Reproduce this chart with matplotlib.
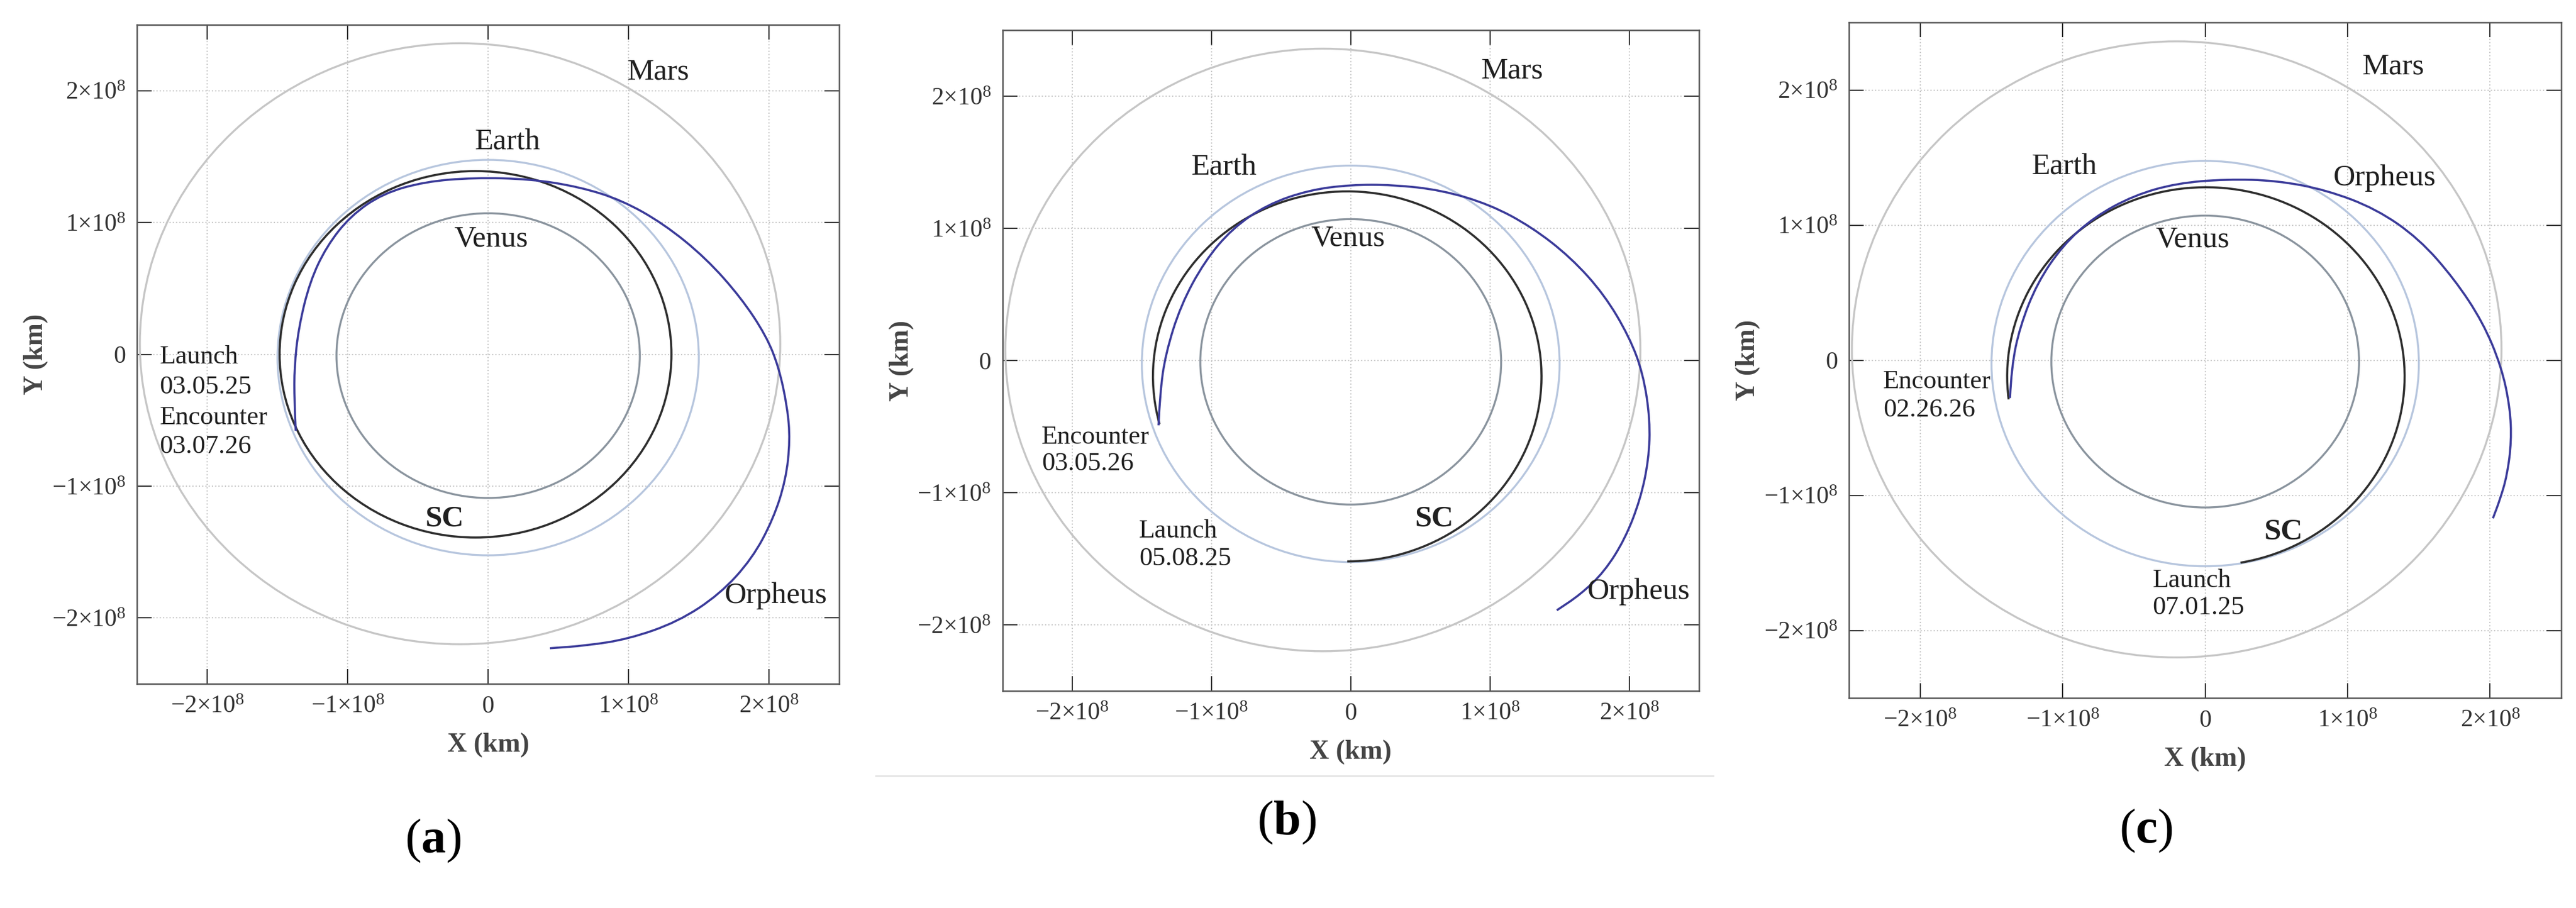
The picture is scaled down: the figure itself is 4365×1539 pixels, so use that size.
import matplotlib.pyplot as plt
from matplotlib.patches import Ellipse, Arc, Rectangle, PathPatch
from matplotlib.path import Path
from matplotlib.lines import Line2D

plt.rcParams['font.family'] = ['Liberation Serif', 'DejaVu Serif']
plt.rcParams['mathtext.fontset'] = 'custom'
plt.rcParams['mathtext.rm'] = 'Liberation Serif'
plt.rcParams['mathtext.it'] = 'Liberation Serif:italic'
plt.rcParams['mathtext.bf'] = 'Liberation Serif:bold'

# --- DATA (units of 1e8 km) ---
# planet orbits: centre x, centre y, radius
mars_orbit = (-0.20, 0.08, 2.28)
earth_orbit = (0.0, -0.025, 1.50)
venus_orbit = (0.0, -0.01, 1.08)

# spacecraft arcs per panel: centre, half-width, half-height, theta start/end (deg)
sc_center = [(-0.09, 0.0), (-0.025, -0.12), (0.005, -0.12)]
sc_halfw = [1.395, 1.395, 1.395]
sc_halfh = [1.39, 1.40, 1.40]
sc_theta = [(0, 360), (-90, 195), (-80, 187)]

# Orpheus trajectories
orph_a_x = [-1.37, -1.38, -1.38, -1.35, -1.27, -1.15, -0.98, -0.75, -0.45, -0.10, 0.30, 0.65, 0.95,
            1.25, 1.55, 1.80, 1.98, 2.07, 2.13, 2.15, 2.12, 2.03, 1.88, 1.65, 1.35, 1.00, 0.70, 0.44]
orph_a_y = [-0.58, -0.35, -0.10, 0.20, 0.55, 0.82, 1.05, 1.22, 1.31, 1.34, 1.33, 1.27, 1.17,
            0.99, 0.73, 0.43, 0.14, -0.10, -0.40, -0.65, -0.95, -1.25, -1.55, -1.82, -2.03, -2.16, -2.21, -2.23]
orph_b_x = [-1.38, -1.37, -1.33, -1.22, -1.05, -0.85, -0.60, -0.30, 0.00, 0.30, 0.65, 1.00, 1.30,
            1.58, 1.82, 2.00, 2.10, 2.15, 2.14, 2.08, 1.97, 1.82, 1.65, 1.48]
orph_b_y = [-0.49, -0.25, 0.05, 0.42, 0.75, 1.00, 1.18, 1.29, 1.33, 1.33, 1.29, 1.18, 1.01,
            0.78, 0.50, 0.18, -0.10, -0.45, -0.75, -1.05, -1.35, -1.60, -1.77, -1.89]
orph_c_x = [-1.37, -1.36, -1.30, -1.18, -1.00, -0.78, -0.50, -0.20, 0.15, 0.50, 0.85, 1.20, 1.50,
            1.75, 1.95, 2.08, 2.14, 2.15, 2.12, 2.07, 2.02]
orph_c_y = [-0.28, -0.05, 0.25, 0.57, 0.85, 1.06, 1.22, 1.31, 1.34, 1.33, 1.26, 1.12, 0.90,
            0.60, 0.28, -0.05, -0.35, -0.60, -0.85, -1.03, -1.17]
orph_x = [orph_a_x, orph_b_x, orph_c_x]
orph_y = [orph_a_y, orph_b_y, orph_c_y]

# labels per panel: (text, x, y, ha, bold)
labels = [
    [("Mars", 1.21, 2.14, 'center', False), ("Earth", 0.14, 1.61, 'center', False),
     ("Venus", 0.02, 0.87, 'center', False), ("SC", -0.31, -1.25, 'center', True),
     ("Orpheus", 2.05, -1.83, 'center', False),
     ("Launch", -2.34, -0.02, 'left', False), ("03.05.25", -2.34, -0.25, 'left', False),
     ("Encounter", -2.34, -0.48, 'left', False), ("03.07.26", -2.34, -0.70, 'left', False)],
    [("Mars", 1.16, 2.19, 'center', False), ("Earth", -0.91, 1.46, 'center', False),
     ("Venus", -0.02, 0.92, 'center', False), ("SC", 0.60, -1.20, 'center', True),
     ("Orpheus", 2.07, -1.75, 'center', False),
     ("Encounter", -2.22, -0.58, 'left', False), ("03.05.26", -2.22, -0.78, 'left', False),
     ("Launch", -1.52, -1.29, 'left', False), ("05.08.25", -1.52, -1.50, 'left', False)],
    [("Mars", 1.32, 2.17, 'center', False), ("Earth", -0.99, 1.43, 'center', False),
     ("Orpheus", 1.26, 1.35, 'center', False),
     ("Venus", -0.09, 0.89, 'center', False), ("SC", 0.55, -1.27, 'center', True),
     ("Encounter", -2.26, -0.16, 'left', False), ("02.26.26", -2.26, -0.37, 'left', False),
     ("Launch", -0.37, -1.63, 'left', False), ("07.01.25", -0.37, -1.83, 'left', False)],
]

ticks = [-2, -1, 0, 1, 2]
tick_labels = [r'$-2{\times}10^{8}$', r'$-1{\times}10^{8}$', '0', r'$1{\times}10^{8}$', r'$2{\times}10^{8}$']
captions = ['a', 'b', 'c']

# --- LAYOUT ---
axes_pos = [[0.0532, 0.2469, 0.2726, 0.7258],
            [0.3892, 0.2391, 0.2703, 0.7277],
            [0.7178, 0.2313, 0.2765, 0.7440]]
caption_pos = [(0.168, 0.074), (0.4995, 0.094), (0.833, 0.085)]


def smooth_path(xs, ys):
    # quadratic Bezier through midpoints, read points act as control points
    verts = [(xs[0], ys[0])]
    codes = [Path.MOVETO]
    for k in range(1, len(xs) - 1):
        verts += [(xs[k], ys[k]), ((xs[k] + xs[k + 1]) / 2, (ys[k] + ys[k + 1]) / 2)]
        codes += [Path.CURVE3, Path.CURVE3]
    verts.append((xs[-1], ys[-1]))
    codes.append(Path.LINETO)
    return Path(verts, codes)


fig = plt.figure(figsize=(43.65, 15.39), dpi=100)

for i in range(3):
    ax = fig.add_axes(axes_pos[i])
    for (cx, cy, r), col in [(mars_orbit, '#c6c6c6'), (earth_orbit, '#b7c6de'), (venus_orbit, '#8a949e')]:
        ax.add_patch(Ellipse((cx, cy), 2 * r, 2 * r, fill=False, ec=col, lw=2.4, zorder=2))
    ax.add_patch(Arc(sc_center[i], 2 * sc_halfw[i], 2 * sc_halfh[i],
                     theta1=sc_theta[i][0], theta2=sc_theta[i][1], color='#2e2e2e', lw=2.6, zorder=3))
    ax.add_patch(PathPatch(smooth_path(orph_x[i], orph_y[i]), fill=False, ec='#3b3b9a',
                           lw=2.6, zorder=4, joinstyle='round'))

    for txt, x, y, ha, bold in labels[i]:
        ax.text(x, y, txt, ha=ha, va='center', fontsize=37 if ha == 'center' else 32,
                fontweight='bold' if bold else 'normal', color='#202020', zorder=5)

    ax.set_xlim(-2.5, 2.5)
    ax.set_ylim(-2.5, 2.5)
    ax.set_xticks(ticks)
    ax.set_yticks(ticks)
    ax.set_xticklabels(tick_labels, fontsize=30)
    ax.set_yticklabels(tick_labels, fontsize=30)
    ax.tick_params(direction='in', length=18, width=1.5, top=True, right=True, pad=14, colors='#333333')
    ax.grid(True, ls=':', color='#c8c8c8', lw=1.5)
    for s in ax.spines.values():
        s.set_color('#555555')
        s.set_linewidth(1.8)
    ax.set_xlabel('X (km)', fontsize=33, fontweight='bold', color='#444444', labelpad=18)
    ax.set_ylabel('Y (km)', fontsize=33, fontweight='bold', color='#444444', labelpad=4)

    fig.text(caption_pos[i][0], caption_pos[i][1], r'(' + r'$\mathbf{' + captions[i] + '}$' + ')',
             ha='center', va='center', fontsize=60)

# panel (b) is cropped at the bottom in the source
fig.patches.append(Rectangle((0.334, 0.118), 0.33, 0.027, transform=fig.transFigure,
                             fc='white', ec='none', zorder=10))
fig.lines.append(Line2D([0.340, 0.665], [0.1455, 0.1455], transform=fig.transFigure,
                        color='#e4e4e4', lw=2, zorder=11))

fig.savefig('out.png', dpi=100)
